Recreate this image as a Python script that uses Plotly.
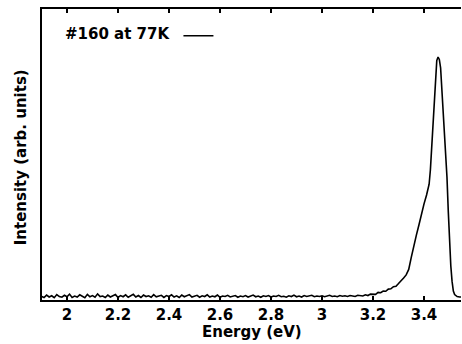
import plotly.graph_objects as go

energy_base = [1.90, 1.91, 1.92, 1.93, 1.94, 1.95, 1.96, 1.97, 1.98, 1.99,
               2.00, 2.01, 2.02, 2.03, 2.04, 2.05, 2.06, 2.07, 2.08, 2.09,
               2.10, 2.11, 2.12, 2.13, 2.14, 2.15, 2.16, 2.17, 2.18, 2.19,
               2.20, 2.21, 2.22, 2.23, 2.24, 2.25, 2.26, 2.27, 2.28, 2.29,
               2.30, 2.31, 2.32, 2.33, 2.34, 2.35, 2.36, 2.37, 2.38, 2.39,
               2.40, 2.41, 2.42, 2.43, 2.44, 2.45, 2.46, 2.47, 2.48, 2.49,
               2.50, 2.51, 2.52, 2.53, 2.54, 2.55, 2.56, 2.57, 2.58, 2.59,
               2.60, 2.61, 2.62, 2.63, 2.64, 2.65, 2.66, 2.67, 2.68, 2.69,
               2.70, 2.71, 2.72, 2.73, 2.74, 2.75, 2.76, 2.77, 2.78, 2.79,
               2.80, 2.81, 2.82, 2.83, 2.84, 2.85, 2.86, 2.87, 2.88, 2.89,
               2.90, 2.91, 2.92, 2.93, 2.94, 2.95, 2.96, 2.97, 2.98, 2.99,
               3.00, 3.01, 3.02, 3.03, 3.04, 3.05, 3.06, 3.07, 3.08, 3.09]
intensity_base = [0.003, -0.002, 0.008, 0.000, 0.005, -0.003, 0.010, 0.002, -0.001, 0.007,
                  0.001, 0.012, -0.002, 0.004, 0.000, 0.009, 0.003, -0.003, 0.011, 0.001,
                  0.006, -0.001, 0.013, 0.002, 0.004, -0.002, 0.008, 0.000, 0.005, 0.010,
                  -0.002, 0.006, 0.001, 0.009, -0.001, 0.004, 0.011, 0.000, 0.006, -0.002,
                  0.008, 0.002, 0.005, -0.001, 0.010, 0.001, 0.004, 0.007, -0.002, 0.006,
                  0.002, 0.009, 0.000, 0.005, -0.002, 0.008, 0.001, 0.004, 0.010, 0.000,
                  0.003, 0.007, -0.001, 0.005, 0.002, 0.009, 0.000, 0.004, 0.001, 0.008,
                  -0.001, 0.004, 0.002, 0.007, 0.000, 0.003, 0.006, -0.001, 0.004, 0.001,
                  0.006, 0.000, 0.003, 0.008, 0.001, 0.004, -0.001, 0.005, 0.002, 0.006,
                  0.000, 0.004, 0.002, 0.007, 0.001, 0.003, -0.001, 0.005, 0.002, 0.008,
                  0.001, 0.004, 0.000, 0.006, 0.002, 0.003, 0.007, 0.001, 0.004, 0.002,
                  0.005, 0.001, 0.003, 0.007, 0.002, 0.004, 0.001, 0.006, 0.003, 0.005]

# Emission band region
energy_peak = [3.10, 3.11, 3.12, 3.13, 3.14, 3.15, 3.16, 3.17, 3.18, 3.19, 3.20, 3.21,
               3.22, 3.23, 3.24, 3.25, 3.26, 3.27, 3.28, 3.29, 3.30, 3.31,
               3.32, 3.33, 3.34, 3.35, 3.36, 3.37, 3.38, 3.39, 3.40, 3.41,
               3.415, 3.42, 3.425, 3.43, 3.435, 3.44, 3.445, 3.45, 3.455, 3.46,
               3.465, 3.47, 3.475, 3.48, 3.485, 3.49, 3.495, 3.50, 3.505, 3.51,
               3.515, 3.52, 3.53, 3.54, 3.55]
intensity_peak = [0.002, 0.006, 0.004, 0.002, 0.007, 0.006, 0.004, 0.009, 0.006, 0.012, 0.013, 0.011,
                  0.019, 0.018, 0.025, 0.024, 0.033, 0.034, 0.043, 0.045, 0.056, 0.066,
                  0.079, 0.092, 0.115, 0.165, 0.218, 0.258, 0.300, 0.348, 0.388, 0.425,
                  0.445, 0.470, 0.530, 0.625, 0.730, 0.840, 0.935, 0.985, 1.000, 0.990,
                  0.955, 0.870, 0.780, 0.695, 0.600, 0.500, 0.360, 0.230, 0.130, 0.065,
                  0.025, 0.010, 0.002, 0.000, 0.000]

energy = energy_base + energy_peak
intensity = intensity_base + intensity_peak

tick_vals = [2.0, 2.2, 2.4, 2.6, 2.8, 3.0, 3.2, 3.4]
tick_text = ["2", "2.2", "2.4", "2.6", "2.8", "3", "3.2", "3.4"]

FONT = "DejaVu Sans"

fig = go.Figure()
fig.add_trace(go.Scatter(
    x=energy, y=intensity, mode="lines", name="",
    line=dict(color="black", width=1.6),
    showlegend=True,
))

fig.update_layout(
    width=462, height=344,
    margin=dict(l=42, r=1, t=9, b=44),
    paper_bgcolor="white", plot_bgcolor="white",
    font=dict(family=FONT, size=15, color="black"),
    showlegend=True,
    legend=dict(
        title=dict(text="<b>#160 at 77K</b>", side="left",
                   font=dict(family=FONT, size=15, color="black")),
        x=0.05, y=0.964, xanchor="left", yanchor="top",
        bgcolor="rgba(0,0,0,0)", itemwidth=30,
        font=dict(family=FONT, size=15),
    ),
    xaxis=dict(
        range=[1.902, 3.545], automargin=False,
        tickvals=tick_vals, ticktext=tick_text,
        ticks="inside", ticklen=4, tickwidth=1.5, tickcolor="black",
        showline=True, linecolor="black", linewidth=2,
        mirror="allticks", showgrid=False, zeroline=False,
        tickfont=dict(family=FONT, size=15, color="black", weight="bold"),
    ),
    yaxis=dict(
        range=[-0.0125, 1.2], automargin=False,
        showticklabels=False, ticks="",
        showline=True, linecolor="black", linewidth=2,
        mirror=False, showgrid=False, zeroline=False,
    ),
    annotations=[
        dict(text="<b>Energy (eV)</b>", xref="paper", yref="paper",
             x=0.5, y=-0.11, xanchor="center", yanchor="middle",
             showarrow=False, font=dict(family=FONT, size=15, color="black")),
        dict(text="<b>Intensity (arb. units)</b>", xref="paper", yref="paper",
             x=-0.048, y=0.49, xanchor="center", yanchor="middle", textangle=-90,
             showarrow=False, font=dict(family=FONT, size=15, color="black")),
    ],
)

fig.write_html("out.html", config={"displayModeBar": False},
               post_script="document.body.style.margin='0';")
